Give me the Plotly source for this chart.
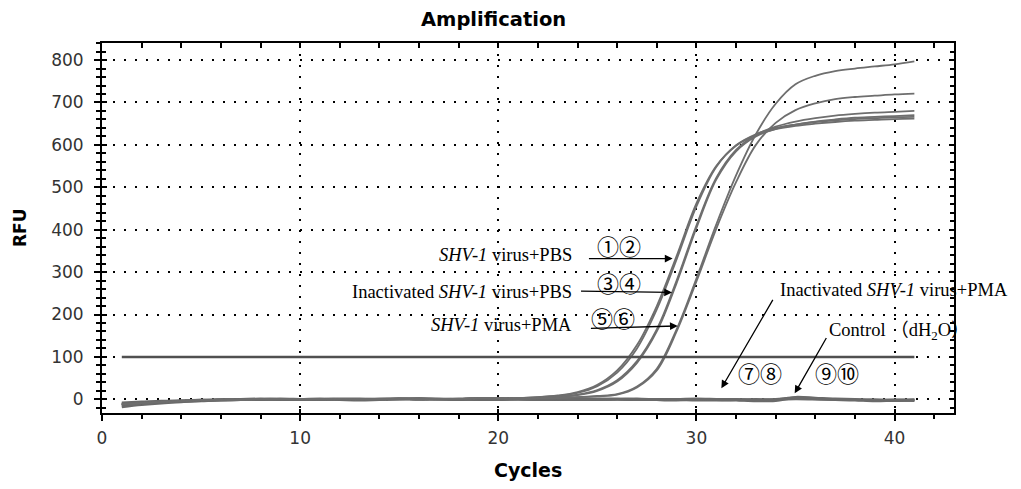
import plotly.graph_objects as go

cycles = list(range(1, 42))

base = [-12, -9, -6, -4, -2, -1, -1, 0, 0, 0, 0, 1, 0, 0, 1, 0, 1, 1, 2, 2]

s1 = base + [3, 5, 9, 17, 34, 68, 128, 220, 338, 462, 550, 598, 623, 637, 645, 650, 654, 657, 659, 661, 662]
s2 = base + [3, 5, 8, 15, 31, 63, 120, 212, 330, 455, 548, 599, 625, 640, 648, 654, 658, 661, 663, 665, 666]
s3 = base + [2, 3, 6, 11, 22, 45, 90, 165, 280, 410, 522, 588, 624, 643, 655, 663, 669, 673, 676, 678, 680]
s4 = base + [2, 3, 6, 10, 20, 42, 86, 160, 274, 404, 518, 585, 620, 638, 648, 655, 660, 664, 666, 668, 670]
s5 = base + [1, 2, 3, 5, 8, 12, 30, 72, 165, 285, 412, 528, 625, 697, 743, 763, 774, 780, 785, 790, 797]
s6 = base + [1, 2, 3, 5, 7, 11, 28, 68, 160, 278, 402, 512, 600, 652, 682, 698, 708, 713, 716, 719, 721]

f1 = [-15, -11, -7, -5, -3, -2, -1, -1, 0, 0, 1, 0, -1, 0, 1, 1, 0, -1, 0, 0, 1,
      0, -1, 0, 1, 0, -1, 0, 0, 1, 0, -1, -2, 0, 3, 1, 0, -1, -2, -3, -2]
f2 = [-8, -6, -4, -3, -2, -1, 0, 0, 1, 0, -1, 0, 0, 1, 2, 1, 0, 1, 1, 0, 0,
      -1, 0, 1, 0, 0, 1, -1, -2, 0, -1, -2, -4, -3, 4, 2, 0, -1, -1, -2, -1]
f3 = [-18, -13, -9, -6, -4, -2, -1, 0, -1, -1, 0, -1, -2, -1, 0, 1, 0, 0, -1, -1, 0,
      0, 1, 0, -1, 0, -1, -1, -1, -2, -2, -1, 0, -1, 1, 0, -1, -2, -4, -3, -3]
f4 = [-10, -8, -6, -4, -2, -1, 0, 1, 0, 0, 0, 1, 1, 0, 1, 2, 1, 0, 1, 1, 1,
      0, 0, -1, 0, 1, 0, 0, -1, -1, 0, 0, -2, -1, 5, 3, 1, 0, -2, -1, -1]

threshold_x = [1, 41]
threshold_y = [100, 100]

x_ticks = [0, 10, 20, 30, 40]
y_ticks = [0, 100, 200, 300, 400, 500, 600, 700, 800]

XR = [0, 43.0]
YR = [-32.3, 840.3]

fig = go.Figure()

for ys in [f1, f2, f3, f4]:
    fig.add_trace(go.Scatter(x=cycles, y=ys, mode="lines", line_shape="spline",
                             line=dict(color="#6a6a6a", width=2.6), showlegend=False))
for ys in [s1, s2, s3, s4, s5, s6]:
    fig.add_trace(go.Scatter(x=cycles, y=ys, mode="lines", line_shape="spline",
                             line=dict(color="#6e6e6e", width=1.8), showlegend=False))

fig.add_trace(go.Scatter(x=threshold_x, y=threshold_y, mode="lines",
                         line=dict(color="#505050", width=2.5), showlegend=False))

# invisible traces for overlay axes
fig.add_trace(go.Scatter(x=[None], y=[None], xaxis="x2", yaxis="y2", showlegend=False))
fig.add_trace(go.Scatter(x=[None], y=[None], xaxis="x3", yaxis="y3", showlegend=False))

tickfont = dict(family="DejaVu Sans", size=17, color="#333333")
grid_dash = "2px,9px"

# page body has an 8px default margin, so the figure is made 8px smaller
fig.update_layout(
    width=1013, height=481,
    margin=dict(l=94, r=67, t=35, b=76, autoexpand=False),
    paper_bgcolor="white", plot_bgcolor="white",
    showlegend=False,
    xaxis=dict(range=XR, tickvals=x_ticks, ticks="outside", ticklen=6, tickwidth=2,
               tickcolor="black", showline=True, linecolor="black", linewidth=2,
               mirror=True, showgrid=True, gridcolor="black", gridwidth=2,
               griddash=grid_dash, zeroline=False, tickfont=tickfont,
               ticklabelstandoff=3, automargin=False,
               minor=dict(dtick=2, ticks="outside", ticklen=4, tickwidth=1.5,
                          tickcolor="black", showgrid=False)),
    yaxis=dict(range=YR, tickvals=y_ticks, ticks="outside", ticklen=6, tickwidth=2,
               tickcolor="black", showline=True, linecolor="black", linewidth=2,
               mirror=True, showgrid=True, gridcolor="black", gridwidth=2,
               griddash=grid_dash, zeroline=False, tickfont=tickfont,
               ticklabelstandoff=7, automargin=False,
               minor=dict(dtick=20, tick0=0, ticks="outside", ticklen=4, tickwidth=1.5,
                          tickcolor="black", showgrid=False)),
    xaxis2=dict(range=XR, overlaying="x", side="top", tickvals=x_ticks, ticks="inside",
                ticklen=5, tickwidth=2, tickcolor="black", showticklabels=False,
                showgrid=False, zeroline=False, showline=False, automargin=False,
                minor=dict(dtick=2, ticks="inside", ticklen=5, tickwidth=1.5, tickcolor="black")),
    yaxis2=dict(range=YR, overlaying="y", side="right", tickvals=y_ticks, ticks="inside",
                ticklen=5, tickwidth=2, tickcolor="black", showticklabels=False,
                showgrid=False, zeroline=False, showline=False, automargin=False,
                minor=dict(dtick=20, tick0=0, ticks="inside", ticklen=4, tickwidth=1.5,
                           tickcolor="black")),
    xaxis3=dict(range=XR, overlaying="x", side="bottom", tickvals=x_ticks, ticks="inside",
                ticklen=4, tickwidth=2, tickcolor="black", showticklabels=False,
                showgrid=False, zeroline=False, showline=False, automargin=False),
    yaxis3=dict(range=YR, overlaying="y", side="left", tickvals=y_ticks, ticks="inside",
                ticklen=5, tickwidth=2, tickcolor="black", showticklabels=False,
                showgrid=False, zeroline=False, showline=False, automargin=False,
                minor=dict(dtick=20, tick0=0, ticks="inside", ticklen=4, tickwidth=1.5,
                           tickcolor="black")),
)

serif = dict(family="Liberation Serif, Noto Sans CJK SC", size=18.5, color="black")
circ = dict(family="Noto Sans CJK SC", size=22, color="black")

annos = []
# title and axis titles
annos.append(dict(text="<b>Amplification</b>", xref="paper", yref="paper",
                  x=(493 - 102) / 852, y=1 + 23 / 370, xanchor="center", yanchor="middle",
                  showarrow=False, font=dict(family="DejaVu Sans", size=19.5, color="black")))
annos.append(dict(text="<b>Cycles</b>", xref="paper", yref="paper",
                  x=0.5, y=-57 / 370, xanchor="center", yanchor="middle",
                  showarrow=False, font=dict(family="DejaVu Sans", size=19, color="black")))
annos.append(dict(text="<b>RFU</b>", xref="paper", yref="paper",
                  x=(20 - 102) / 852, y=0.5, xanchor="center", yanchor="middle", textangle=-90,
                  showarrow=False, font=dict(family="DejaVu Sans", size=17, color="black")))

# labels
annos.append(dict(text="<i>SHV-1</i> virus+PBS", x=23.8, y=340, xanchor="right",
                  yanchor="middle", showarrow=False, font=serif))
annos.append(dict(text="Inactivated <i>SHV-1</i> virus+PBS", x=23.8, y=254, xanchor="right",
                  yanchor="middle", showarrow=False, font=serif))
annos.append(dict(text="<i>SHV-1</i> virus+PMA", x=23.8, y=175, xanchor="right",
                  yanchor="middle", showarrow=False, font=serif))
annos.append(dict(text="Inactivated <i>SHV-1</i> virus+PMA", x=34.1, y=258, xanchor="left",
                  yanchor="middle", showarrow=False, font=serif))
annos.append(dict(text="Control （dH<sub>2</sub>O）", x=36.6, y=159, xanchor="left",
                  yanchor="middle", showarrow=False, font=serif))

annos.append(dict(text="①②", x=26.1, y=364, showarrow=False, font=circ))
annos.append(dict(text="③④", x=26.1, y=277, showarrow=False, font=circ))
annos.append(dict(text="⑤⑥", x=25.8, y=195, showarrow=False, font=circ))
annos.append(dict(text="⑦⑧", x=33.2, y=65, showarrow=False, font=circ))
annos.append(dict(text="⑨⑩", x=37.1, y=65, showarrow=False, font=circ))

# arrows
arrows = [
    (28.8, 332, 24.5, 332),
    (28.77, 252, 24.1, 255),
    (29.06, 173, 24.6, 167),
    (31.26, 26, 33.9, 238),
    (34.96, 14, 36.6, 148),
]
for hx, hy, tx, ty in arrows:
    annos.append(dict(text="", x=hx, y=hy, ax=tx, ay=ty, axref="x", ayref="y",
                      xref="x", yref="y", showarrow=True, arrowhead=2, arrowsize=1.2,
                      arrowwidth=1.3, arrowcolor="black"))

fig.update_layout(annotations=annos)

fig.write_html("out.html")
